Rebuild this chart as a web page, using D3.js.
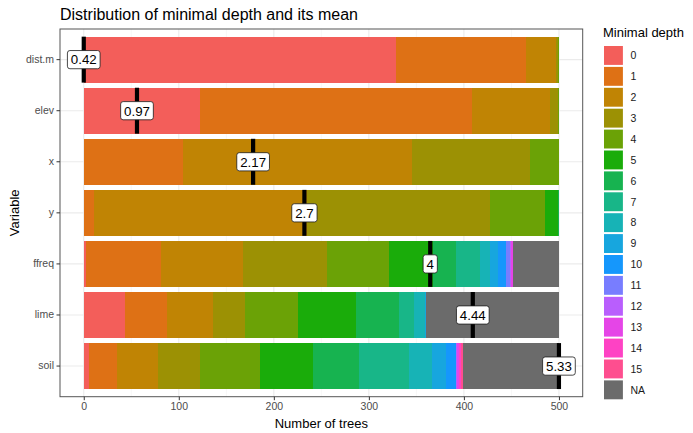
<!DOCTYPE html>
<html>
<head>
<meta charset="utf-8">
<script src="https://cdn.jsdelivr.net/npm/d3@7"></script>
<style>
  html, body { margin: 0; padding: 0; background: #ffffff; }
  svg { display: block; font-family: "Liberation Sans", Arial, sans-serif; }
</style>
</head>
<body>
<svg id="chart" width="693" height="433"></svg>
<script>
// Variables, top to bottom
const variables = ["dist.m", "elev", "x", "y", "ffreq", "lime", "soil"];

// Minimal depth levels (stack order, left to right)
const depthLevels = ["0", "1", "2", "3", "4", "5", "6", "7", "8", "9", "10", "11", "12", "13", "14", "15", "NA"];

// Number of trees in which each variable reaches a given minimal depth
// (one array per variable, aligned with depthLevels)
const countsDistM = [329, 136, 32, 2, 1, 0, 0, 0, 0, 0, 0, 0, 0, 0, 0, 0, 0];
const countsElev  = [122, 286, 83, 8, 1, 0, 0, 0, 0, 0, 0, 0, 0, 0, 0, 0, 0];
const countsX     = [0, 104, 241, 125, 30, 0, 0, 0, 0, 0, 0, 0, 0, 0, 0, 0, 0];
const countsY     = [0, 11, 224, 192, 58, 14, 1, 0, 0, 0, 0, 0, 0, 0, 0, 0, 0];
const countsFfreq = [2, 79, 87, 88, 65, 47, 24, 25, 10, 9, 8, 4, 2, 2, 0, 0, 48];
const countsLime  = [43, 45, 48, 34, 55, 61, 46, 15, 12, 1, 0, 0, 0, 0, 0, 0, 140];
const countsSoil  = [6, 29, 43, 44, 63, 56, 49, 52, 24, 15, 11, 0, 1, 2, 2, 2, 101];

// Mean minimal depth per variable
const meanDepth = [0.42, 0.97, 2.17, 2.7, 4, 4.44, 5.33];

// Axis ticks
const xTicks = [0, 100, 200, 300, 400, 500];
const xMinorTicks = [50, 150, 250, 350, 450];

// Fill colour for each depth level
const depthColors = ["#F35E5A", "#DE7115", "#C08404", "#9C9104", "#6BA206", "#1AAC0A",
  "#17B350", "#18B688", "#17B3B6", "#17A6DE", "#1597FC", "#787DFF", "#B95EFD",
  "#E545E7", "#FE42C4", "#FE4E8F", "#6B6B6B"];

const countsByVariable = [countsDistM, countsElev, countsX, countsY, countsFfreq, countsLime, countsSoil];

const svg = d3.select("#chart");
const panel = { left: 60, right: 582.7, top: 29, bottom: 396.7 };

const x = d3.scaleLinear().domain([-25, 525]).range([panel.left, panel.right]);
const y = d3.scaleBand().domain(variables).range([panel.top, panel.bottom])
  .paddingInner(0.1).paddingOuter(0.15);
const color = d3.scaleOrdinal().domain(depthLevels).range(depthColors);

// Stacked segments
const rows = variables.map((v, i) => {
  const row = { variable: v };
  depthLevels.forEach((d, j) => { row[d] = countsByVariable[i][j]; });
  return row;
});
const stacked = d3.stack().keys(depthLevels)(rows);
const totalTrees = d3.max(rows, r => d3.sum(depthLevels, d => r[d]));

// Background grid
const grid = svg.append("g");
grid.selectAll("line.minor").data(xMinorTicks).join("line")
  .attr("x1", d => x(d)).attr("x2", d => x(d))
  .attr("y1", panel.top).attr("y2", panel.bottom)
  .attr("stroke", "#F2F2F2").attr("stroke-width", 0.6);
grid.selectAll("line.majx").data(xTicks).join("line")
  .attr("x1", d => x(d)).attr("x2", d => x(d))
  .attr("y1", panel.top).attr("y2", panel.bottom)
  .attr("stroke", "#EBEBEB").attr("stroke-width", 1.1);
grid.selectAll("line.majy").data(variables).join("line")
  .attr("x1", panel.left).attr("x2", panel.right)
  .attr("y1", d => y(d) + y.bandwidth() / 2).attr("y2", d => y(d) + y.bandwidth() / 2)
  .attr("stroke", "#EBEBEB").attr("stroke-width", 1.1);

// Bars
const bars = svg.append("g");
stacked.forEach(layer => {
  bars.append("g").attr("fill", color(layer.key))
    .selectAll("rect").data(layer.filter(s => s[1] > s[0])).join("rect")
    .attr("x", s => x(s[0]))
    .attr("width", s => x(s[1]) - x(s[0]))
    .attr("y", s => y(s.data.variable))
    .attr("height", y.bandwidth())
    .attr("shape-rendering", "crispEdges");
});

// Mean minimal depth, rescaled onto the tree-count axis
const meanMin = d3.min(meanDepth), meanMax = d3.max(meanDepth);
const meanPos = m => (m - meanMin) / (meanMax - meanMin) * totalTrees;

const means = svg.append("g");
means.selectAll("line").data(variables).join("line")
  .attr("x1", (v, i) => x(meanPos(meanDepth[i])))
  .attr("x2", (v, i) => x(meanPos(meanDepth[i])))
  .attr("y1", v => y(v)).attr("y2", v => y(v) + y.bandwidth())
  .attr("stroke", "#000").attr("stroke-width", 4.2);

const labels = means.selectAll("g.lab").data(variables).join("g")
  .attr("transform", (v, i) => `translate(${x(meanPos(meanDepth[i]))},${y(v) + y.bandwidth() / 2})`);
labels.append("text")
  .attr("text-anchor", "middle").attr("dy", "0.36em")
  .attr("font-size", 13.3).attr("fill", "#000")
  .text((v, i) => String(meanDepth[i]));
labels.each(function () {
  const g = d3.select(this);
  const bb = g.select("text").node().getBBox();
  const padX = 3.4, h = 18.2;
  g.insert("rect", "text")
    .attr("x", bb.x - padX).attr("y", -h / 2)
    .attr("width", bb.width + 2 * padX).attr("height", h)
    .attr("rx", 2.5).attr("ry", 2.5)
    .attr("fill", "#fff").attr("stroke", "#1a1a1a").attr("stroke-width", 0.8);
});

// Panel border
svg.append("rect")
  .attr("x", panel.left).attr("y", panel.top)
  .attr("width", panel.right - panel.left).attr("height", panel.bottom - panel.top)
  .attr("fill", "none").attr("stroke", "#555").attr("stroke-width", 1);

// Axes
const xAxis = svg.append("g").attr("transform", `translate(0,${panel.bottom})`)
  .call(d3.axisBottom(x).tickValues(xTicks).tickSize(3.5).tickPadding(2.5));
const yAxis = svg.append("g").attr("transform", `translate(${panel.left},0)`)
  .call(d3.axisLeft(y).tickSize(3.5).tickPadding(2.5));
[xAxis, yAxis].forEach(a => {
  a.select(".domain").remove();
  a.selectAll(".tick line").attr("stroke", "#333").attr("stroke-width", 1);
  a.selectAll(".tick text").attr("fill", "#4D4D4D").attr("font-size", 10.5)
    .attr("font-family", "Liberation Sans, Arial, sans-serif");
});

// Titles
svg.append("text").attr("x", 60).attr("y", 19.5)
  .attr("font-size", 16).attr("fill", "#000")
  .text("Distribution of minimal depth and its mean");
svg.append("text").attr("x", (panel.left + panel.right) / 2).attr("y", 427.5)
  .attr("text-anchor", "middle").attr("font-size", 13).attr("fill", "#000")
  .text("Number of trees");
svg.append("text")
  .attr("transform", `translate(18.5,${(panel.top + panel.bottom) / 2}) rotate(-90)`)
  .attr("text-anchor", "middle").attr("font-size", 13).attr("fill", "#000")
  .text("Variable");

// Legend
const legend = svg.append("g").attr("transform", "translate(603,0)");
legend.append("text").attr("x", 0).attr("y", 37)
  .attr("font-size", 13).attr("fill", "#000").text("Minimal depth");
const keyStep = 20.9, keyTop = 45;
const keys = legend.selectAll("g.key").data(depthLevels).join("g")
  .attr("transform", (d, i) => `translate(0,${keyTop + i * keyStep})`);
keys.append("rect")
  .attr("x", 1).attr("y", 1).attr("width", keyStep - 2).attr("height", keyStep - 2)
  .attr("fill", d => color(d));
keys.append("text")
  .attr("x", keyStep + 6.5).attr("y", keyStep / 2).attr("dy", "0.36em")
  .attr("font-size", 10.5).attr("fill", "#1a1a1a")
  .text(d => d);
</script>
</body>
</html>
